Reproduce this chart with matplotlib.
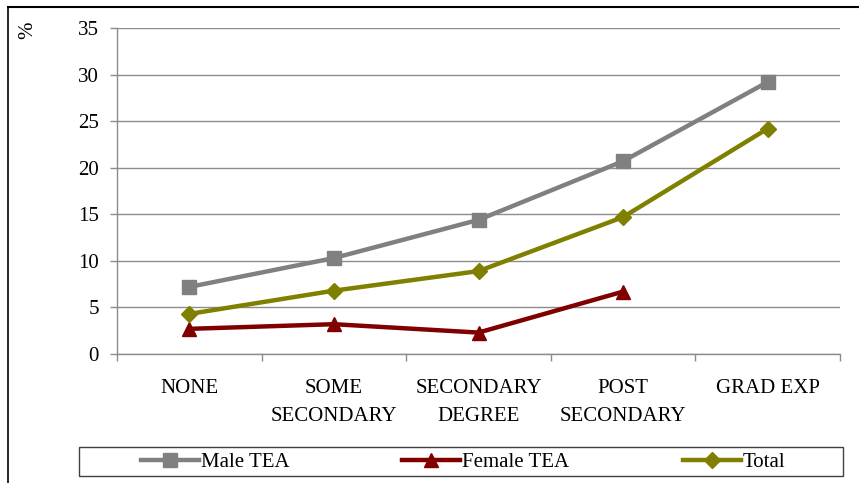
import matplotlib
matplotlib.use("Agg")
import matplotlib.pyplot as plt
from matplotlib.lines import Line2D
from matplotlib.patches import Rectangle

categories = ["NONE", "SOME\nSECONDARY", "SECONDARY\nDEGREE", "POST\nSECONDARY", "GRAD EXP"]
male_tea = [7.2, 10.3, 14.4, 20.7, 29.2]
female_tea = [2.7, 3.2, 2.3, 6.7]
total = [4.3, 6.8, 8.9, 14.7, 24.2]
y_ticks = [0, 5, 10, 15, 20, 25, 30, 35]

plt.rcParams['font.family'] = ['Liberation Serif', 'DejaVu Serif']
FS = 15

fig = plt.figure(figsize=(8.59, 4.83), dpi=100)
ax = fig.add_axes([117/859, 1-354/483, (840-117)/859, (354-28)/483])

x = list(range(len(categories)))
ax.plot(x, male_tea, color="#808080", lw=3.2, marker="s", ms=10, label="Male TEA")
ax.plot(x[:len(female_tea)], female_tea, color="#800000", lw=3.2, marker="^", ms=10, label="Female TEA")
ax.plot(x, total, color="#808000", lw=3.2, marker="D", ms=8, label="Total")

ax.set_xlim(-0.5, len(categories)-0.5)
ax.set_ylim(0, 35)
ax.set_yticks(y_ticks)
ax.set_yticklabels([str(v) for v in y_ticks], fontsize=FS)
ax.yaxis.grid(True, color="#8c8c8c", lw=1)
ax.set_axisbelow(True)

ax.set_xticks(x)
ax.set_xticklabels(categories, fontsize=FS, linespacing=1.65)
ax.set_xticks([i - 0.5 for i in range(len(categories)+1)], minor=True)
ax.tick_params(axis='x', which='major', length=0, pad=18)
ax.tick_params(axis='x', which='minor', length=5, color="#8c8c8c", width=1)
ax.tick_params(axis='y', length=5, color="#8c8c8c", width=1, pad=8)

for s in ["top", "right"]:
    ax.spines[s].set_visible(False)
for s in ["left", "bottom"]:
    ax.spines[s].set_color("#8c8c8c")
    ax.spines[s].set_linewidth(1)

fig.text(28/859, 1-30/483, "%", rotation=90, fontsize=15, ha="center", va="center")

fs_px = FS * 100 / 72
leg = fig.legend(loc="center", ncol=3,
                 bbox_to_anchor=(463/859, 1-462/483),
                 fontsize=FS, frameon=False, handlelength=58/fs_px,
                 columnspacing=113/fs_px, handletextpad=0.1, borderpad=0)
fig.add_artist(Rectangle((79/859, 1-476/483), (843-79)/859, (476-447)/483,
                         transform=fig.transFigure, fill=False, edgecolor="#404040", lw=1))

fig.add_artist(Line2D([8/859, 8/859], [0, 1-7/483], transform=fig.transFigure, color="black", lw=1.2))
fig.add_artist(Line2D([8/859, 1], [1-7/483, 1-7/483], transform=fig.transFigure, color="black", lw=1.5))

fig.savefig("out.png", dpi=100)
